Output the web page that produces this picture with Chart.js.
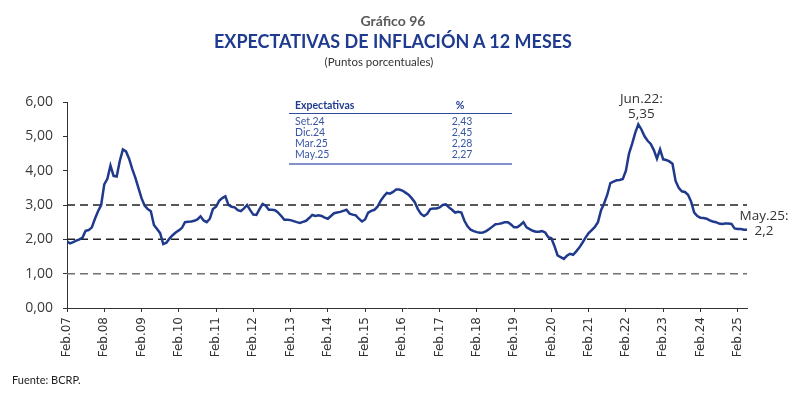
<!DOCTYPE html>
<html lang="es">
<head>
<meta charset="utf-8">
<title>Gráfico 96 - Expectativas de inflación a 12 meses</title>
<script src="https://cdn.jsdelivr.net/npm/chart.js"></script>
<style>
  body { margin: 0; width: 800px; height: 398px; position: relative; background: #fff; overflow: hidden; font-family: Lato, sans-serif; }
  #chart { position: absolute; left: 0; top: 0; }
  .abs { position: absolute; white-space: nowrap; z-index: 2; }
  .centro { width: 400px; text-align: center; }
  .linea { position: absolute; z-index: 2; }
</style>
</head>
<body>
<div class="abs centro" style="left:193px;top:13px;font:bold 14px/1.2 Lato;color:#595959">Gráfico 96</div>
<div class="abs centro" style="left:193px;top:29px;font:bold 19.5px/1.2 Lato;color:#1f3b8f;transform:scaleX(0.922)">EXPECTATIVAS DE INFLACIÓN A 12 MESES</div>
<div class="abs centro" style="left:179px;top:55px;font:11.5px/1.2 Lato;color:#333">(Puntos porcentuales)</div>

<div id="tabla"></div>

<div class="abs" style="left:12px;top:373px;font:11px/1.2 Lato;color:#222">Fuente: BCRP.</div>

<canvas id="chart" width="800" height="398"></canvas>

<script>
// etiquetas del eje x (una por año, en febrero)
const tickLabels = ['Feb.07', 'Feb.08', 'Feb.09', 'Feb.10', 'Feb.11', 'Feb.12', 'Feb.13', 'Feb.14', 'Feb.15',
    'Feb.16', 'Feb.17', 'Feb.18', 'Feb.19', 'Feb.20', 'Feb.21', 'Feb.22', 'Feb.23', 'Feb.24', 'Feb.25'];

// expectativas mensuales, feb.07 - may.25
const expectativas = [
    1.94, 1.88, 1.92, 1.96, 2.00, 2.05, 2.25, 2.27, 2.35, 2.60, 2.82, 3.00, // feb07-ene08
    3.60, 3.76, 4.15, 3.85, 3.83, 4.28, 4.62, 4.56, 4.35, 4.05, 3.80, 3.50, // feb08-ene09
    3.20, 2.98, 2.88, 2.82, 2.42, 2.30, 2.18, 1.86, 1.90, 2.02, 2.12, 2.20, // feb09-ene10
    2.26, 2.33, 2.50, 2.51, 2.52, 2.54, 2.58, 2.67, 2.55, 2.50, 2.60, 2.88, // feb10-ene11
    2.95, 3.12, 3.20, 3.25, 3.00, 2.95, 2.93, 2.85, 2.82, 2.90, 3.00, 2.85, // feb11-ene12
    2.72, 2.71, 2.88, 3.03, 2.98, 2.86, 2.86, 2.85, 2.78, 2.68, 2.57, 2.57, // feb12-ene13
    2.56, 2.53, 2.50, 2.48, 2.51, 2.54, 2.62, 2.71, 2.68, 2.70, 2.68, 2.63, // feb13-ene14
    2.60, 2.68, 2.76, 2.78, 2.80, 2.83, 2.86, 2.75, 2.72, 2.70, 2.60, 2.52, // feb14-ene15
    2.58, 2.78, 2.83, 2.86, 2.95, 3.12, 3.25, 3.35, 3.33, 3.38, 3.45, 3.45, // feb15-ene16
    3.42, 3.36, 3.30, 3.20, 3.08, 2.88, 2.74, 2.68, 2.74, 2.88, 2.90, 2.90, // feb16-ene17
    2.93, 3.00, 3.02, 2.93, 2.86, 2.78, 2.80, 2.78, 2.54, 2.38, 2.28, 2.24, // feb17-ene18
    2.21, 2.19, 2.20, 2.24, 2.30, 2.37, 2.44, 2.45, 2.47, 2.50, 2.50, 2.43, // feb18-ene19
    2.35, 2.35, 2.42, 2.50, 2.35, 2.30, 2.25, 2.22, 2.22, 2.24, 2.20, 2.06, // feb19-ene20
    2.03, 1.80, 1.53, 1.48, 1.43, 1.52, 1.58, 1.55, 1.65, 1.76, 1.90, 2.05, // feb20-ene21
    2.18, 2.27, 2.36, 2.50, 2.85, 3.05, 3.30, 3.64, 3.68, 3.72, 3.73, 3.76, // feb21-ene22
    4.00, 4.50, 4.78, 5.10, 5.35, 5.20, 5.00, 4.87, 4.78, 4.60, 4.35, 4.62, // feb22-ene23
    4.33, 4.31, 4.27, 4.20, 3.70, 3.50, 3.40, 3.38, 3.30, 3.10, 2.78, 2.68, // feb23-ene24
    2.63, 2.62, 2.60, 2.55, 2.52, 2.50, 2.46, 2.45, 2.46, 2.46, 2.45, 2.32, // feb24-ene25
    2.30, 2.30, 2.28, 2.28                                                  // feb25-may25
];

// rango meta y lineas de referencia
const refLevels = [3, 2, 1];

// recuadro de expectativas
const tablaPeriodos = ['Set.24', 'Dic.24', 'Mar.25', 'May.25'];
const tablaValores = ['2,43', '2,45', '2,28', '2,27'];

// anotaciones (indice del mes, texto)
const notaIdx = [184, 219];
const notaTexto = [['Jun.22:', '5,35'], ['May.25:', '2,2']];

// tabla en html
(function () {
    const t = document.getElementById('tabla');
    let html = '<div class="abs" style="left:295px;top:99px;font:bold 10.5px/1.2 Lato;color:#1f3b8f">Expectativas</div>' +
        '<div class="abs" style="left:440px;width:40px;text-align:center;top:99px;font:bold 10.5px/1.2 Lato;color:#1f3b8f">%</div>' +
        '<div class="linea" style="left:289px;top:113px;width:223px;height:1px;background:#2e4a9a"></div>';
    tablaPeriodos.forEach(function (p, i) {
        const top = 115 + i * 10.9;
        html += '<div class="abs" style="left:295px;top:' + top + 'px;font:10.5px/1.2 Lato;color:#3a55a5">' + p + '</div>';
        html += '<div class="abs" style="left:442px;width:40px;text-align:center;top:' + top + 'px;font:10.5px/1.2 Lato;color:#3a55a5">' + tablaValores[i] + '</div>';
    });
    html += '<div class="linea" style="left:289px;top:163px;width:223px;height:2px;background:#8393c9"></div>';
    t.innerHTML = html;
})();

const notas = {
    id: 'notas',
    afterDatasetsDraw(chart) {
        const { ctx, scales: { x, y } } = chart;
        const offs = [[3, -21.5], [17, -9.6]];
        ctx.save();
        ctx.fillStyle = '#333';
        ctx.font = '13.5px "Open Sans"';
        ctx.textAlign = 'center';
        ctx.textBaseline = 'alphabetic';
        notaIdx.forEach(function (idx, k) {
            const px = x.getPixelForValue(idx);
            const py = y.getPixelForValue(expectativas[idx]);
            notaTexto[k].forEach(function (txt, j) {
                ctx.fillText(txt, px + offs[k][0], py + offs[k][1] + j * 15);
            });
        });
        ctx.restore();
    }
};

const refColors = ['#222', '#222', '#707070'];
const last = expectativas.length - 1;

const ctx = document.getElementById('chart').getContext('2d');
let chart = new Chart(ctx, {
    type: 'line',
    data: {
        datasets: [{
            label: 'Expectativas',
            data: expectativas.map((v, i) => ({ x: i, y: v })),
            borderColor: '#1f3a8c',
            borderWidth: 2.5,
            pointRadius: 0,
            tension: 0,
        }].concat(refLevels.map((lv, k) => ({
            label: 'ref' + lv,
            data: [{ x: 0, y: lv }, { x: last, y: lv }],
            borderColor: refColors[k],
            borderWidth: 1.5,
            borderDash: [8, 5],
            pointRadius: 0,
        }))),
    },
    options: {
        responsive: false,
        animation: false,
        layout: { padding: { top: 102, right: 53, left: 0, bottom: 0 } },
        plugins: {
            legend: { display: false },
            tooltip: { enabled: false }
        },
        scales: {
            x: {
                type: 'linear',
                min: 0,
                max: last,
                afterBuildTicks: s => { s.ticks = tickLabels.map((t, i) => ({ value: i * 12 })); },
                afterFit: s => { s.height = 90; },
                grid: { drawOnChartArea: false, drawTicks: true, tickLength: 4, tickColor: '#333' },
                border: { color: '#333', width: 1 },
                ticks: {
                    autoSkip: false,
                    minRotation: 90,
                    maxRotation: 90,
                    padding: 5,
                    color: '#333',
                    font: { family: 'DejaVu Sans', size: 12 },
                    callback: v => tickLabels[Math.round(v / 12)]
                }
            },
            y: {
                min: 0,
                max: 6,
                afterFit: s => { s.width = 67; },
                grid: { drawOnChartArea: false, drawTicks: true, tickLength: 4, tickColor: '#333' },
                border: { color: '#333', width: 1 },
                ticks: {
                    stepSize: 1,
                    padding: 10,
                    color: '#3a3a3a',
                    font: { family: 'Open Sans', size: 14 },
                    callback: v => v.toFixed(2).replace('.', ',')
                }
            }
        }
    },
    plugins: [notas]
});
</script>
</body>
</html>
